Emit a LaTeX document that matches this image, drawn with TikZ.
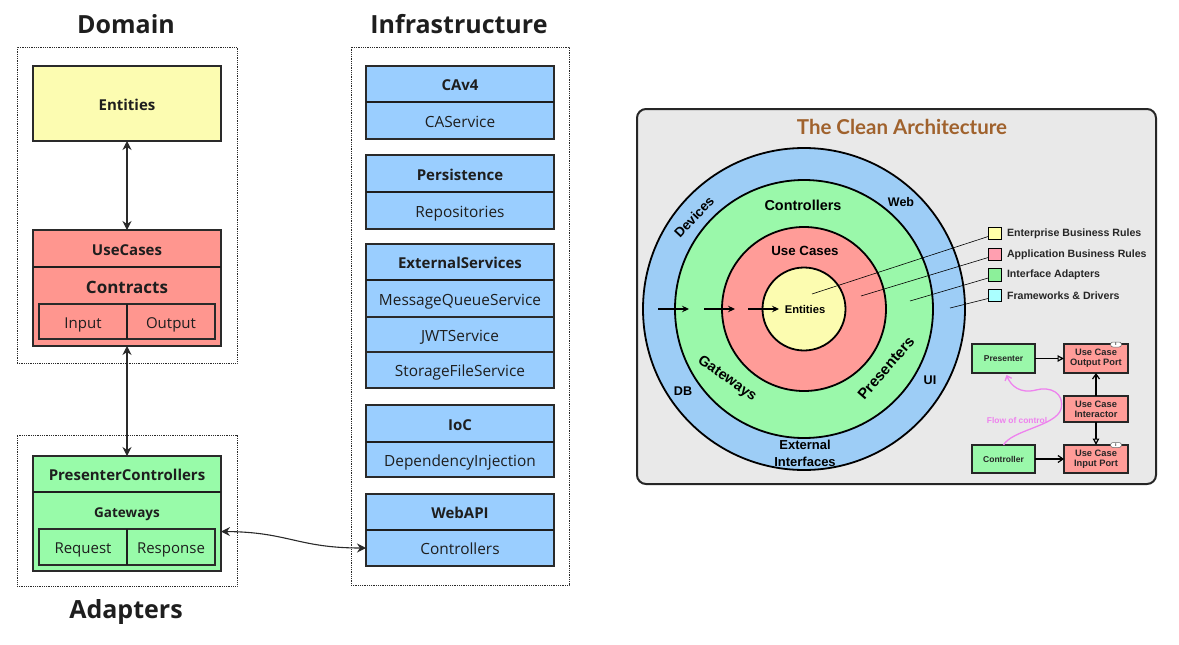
\documentclass[tikz,border=0pt]{standalone}
\usepackage{fontspec}
\setmainfont{Open Sans}
\newfontfamily\arial{Liberation Sans}
\newfontfamily\ttlfont{Lato}
\usetikzlibrary{arrows.meta,calc}
\definecolor{linec}{HTML}{2A2A2A}
\definecolor{txt}{HTML}{1E1E1E}
\definecolor{cYel}{HTML}{FCFCB1}
\definecolor{cRed}{HTML}{FF968F}
\definecolor{cGrn}{HTML}{98FBA9}
\definecolor{cBlu}{HTML}{9ACEFF}
\definecolor{rBlu}{HTML}{9DCDF6}
\definecolor{rGrn}{HTML}{9AF8AA}
\definecolor{rRed}{HTML}{FF9C98}
\definecolor{rYel}{HTML}{FCFCB0}
\definecolor{lYel}{HTML}{FFFFA8}
\definecolor{lPnk}{HTML}{FF9FB0}
\definecolor{lGrn}{HTML}{8CF09A}
\definecolor{lCyn}{HTML}{AAFFFF}
\definecolor{panel}{HTML}{E9E9E9}
\definecolor{brown}{HTML}{A0622D}
\definecolor{flow}{HTML}{EE82EE}
\newcommand\fsz[2]{\fontsize{#1}{#2}\selectfont}
\begin{document}
\begin{tikzpicture}[x=1pt,y=-1pt,
  tbox/.style={text height=16.5pt, text depth=2.7pt},
  box/.style={draw=linec, line width=1.3pt, inner sep=0pt, outer sep=0pt, minimum width=188pt, text=txt, tbox},
  bluebox/.style={box, fill=cBlu},
  hd/.style={font=\bfseries\fsz{15}{18}},
  bd/.style={font=\fsz{15.4}{18}},
  sub/.style={draw=linec, line width=1.2pt, inner sep=0pt, outer sep=0pt, minimum width=88pt, minimum height=35pt, font=\fsz{15}{18}, text=txt, tbox},
  frame/.style={draw=linec, line width=0.8pt, dash pattern=on 0.9pt off 0.9pt, inner sep=0pt, minimum width=220pt},
  divider/.style={draw=txt, line width=2.8pt},
  ttl/.style={font=\bfseries\fsz{25}{30}, text=txt},
  dbl/.style={{Stealth[length=9pt,width=9pt,inset=3pt]}-{Stealth[length=9pt,width=9pt,inset=3pt]}, line width=1.1pt, draw=linec},
  ring/.style={circle, draw=black, line width=1.8pt, inner sep=0pt, outer sep=0pt},
  rlab/.style={font=\arial\bfseries\fsz{13}{15}, text=black},
  leg/.style={draw=black, line width=0.6pt, minimum width=13pt, minimum height=12.5pt, inner sep=0pt},
  legt/.style={anchor=west, font=\arial\bfseries\fsz{10.6}{12}, text=black!85},
  sbox/.style={draw=black!85, line width=1.2pt, inner sep=0pt, outer sep=0pt, align=center, font=\arial\bfseries\fsz{8.5}{9.5}, text=black!85},
  pbox/.style={sbox, fill=rRed, minimum width=64pt, font=\arial\bfseries\fsz{9.3}{10.2}},
  ifc/.style={draw=black!60, line width=0.5pt, fill=white, rounded corners=2.5pt, minimum width=11pt, minimum height=5pt, inner sep=0pt, font=\arial\bfseries\fsz{4}{4}},
  ptr/.style={draw=black, line width=0.6pt},
  ]
\useasboundingbox (0,0) rectangle (1179,645);

% ---------- titles ----------
\node[ttl] (tDomain) at (126,24) {Domain};
\node[ttl] (tInfra) at (459,24) {Infrastructure};
\node[ttl] (tAdapt) at (126,612) {Adapters};

% ---------- frames ----------
\node[frame, minimum height=316pt] (fDomain) at (127,205) {};
\node[frame, minimum height=151pt] (fAdapt) at (127,510.5) {};
\node[frame, minimum width=218pt, minimum height=538pt] (fInfra) at (460,316) {};

% ---------- domain ----------
\node[box, fill=cYel, minimum height=75pt, hd] (ent) at (127,103.5) {Entities};
\node[box, fill=cRed, minimum height=37pt, hd] (uch) at (127,248.5) {UseCases};
\node[box, fill=cRed, minimum height=79pt] (ucb) at (127,306.5) {};
\node[font=\bfseries\fsz{17}{20}, text=txt, tbox, inner sep=0pt] (contr) at (127,286.5) {Contracts};
\node[sub, fill=cRed] (inp) at (83,321.5) {Input};
\node[sub, fill=cRed] (outp) at (171,321.5) {Output};
\draw[divider] (uch.south west) -- (uch.south east);
\draw[draw=txt, line width=2.2pt] (inp.north east) -- (inp.south east);

% ---------- adapters ----------
\node[box, fill=cGrn, minimum height=36pt, hd] (pch) at (127,474) {PresenterControllers};
\node[box, fill=cGrn, minimum height=79pt] (pcb) at (127,531.5) {};
\node[font=\bfseries\fsz{13.5}{16}, text=txt, tbox, inner sep=0pt] (gw) at (127,510.5) {Gateways};
\node[sub, fill=cGrn, minimum height=36pt] (req) at (83,547) {Request};
\node[sub, fill=cGrn, minimum height=36pt] (resp) at (171,547) {Response};
\draw[divider] (pch.south west) -- (pch.south east);
\draw[draw=txt, line width=2.2pt] (req.north east) -- (req.south east);

% ---------- infrastructure ----------
\node[bluebox, minimum height=36pt, hd] (cavh) at (460,84) {CAv4};
\node[bluebox, minimum height=37pt, bd] (cavb) at (460,120.5) {CAService};
\node[bluebox, minimum height=37pt, hd] (perh) at (460,173.5) {Persistence};
\node[bluebox, minimum height=37pt, bd] (perb) at (460,210.5) {Repositories};
\node[bluebox, minimum height=36pt, hd] (exth) at (460,262) {ExternalServices};
\node[bluebox, minimum height=37pt, bd] (mq) at (460,298.5) {MessageQueueService};
\node[bluebox, minimum height=35pt, bd] (jwt) at (460,334.5) {JWTService};
\node[bluebox, minimum height=36pt, bd] (stor) at (460,370) {StorageFileService};
\node[bluebox, minimum height=37pt, hd] (iocl) at (460,423.5) {IoC};
\node[bluebox, minimum height=35pt, bd] (iocb) at (460,459.5) {DependencyInjection};
\node[bluebox, minimum height=36pt, hd] (webh) at (460,512) {WebAPI};
\node[bluebox, minimum height=36pt, bd] (webb) at (460,548) {Controllers};
\foreach \n in {cavh,perh,exth,iocl,webh}{\draw[divider] (\n.south west) -- (\n.south east);}

% ---------- connectors ----------
\draw[dbl] (ent.south) -- (uch.north);
\draw[dbl] (ucb.south) -- (pch.north);
\draw[dbl] (pcb.east) .. controls (288,532) and (298,548) .. (webb.west);

% ---------- clean architecture panel ----------
\node[draw=black!85, line width=2pt, fill=panel, rounded corners=9pt, minimum width=519pt, minimum height=375pt, inner sep=0pt] (panel) at (896.5,296.5) {};
\node[font=\ttlfont\bfseries\fsz{20.5}{24}, text=brown] (ptitle) at (902,127) {The Clean Architecture};

\node[ring, fill=rBlu, minimum size=322pt] (cOut) at (804,309) {};
\node[ring, fill=rGrn, minimum size=258pt] (cGrn) at (804,309) {};
\node[ring, fill=rRed, minimum size=164pt] (cRed) at (804,309) {};
\node[ring, fill=rYel, minimum size=83pt] (cYel) at (804,309) {};

\node[rlab, font=\arial\bfseries\fsz{14.4}{17}] (lCtrl) at (803,205) {Controllers};
\node[rlab, font=\arial\bfseries\fsz{13.3}{16}] (lUC) at (805,251) {Use Cases};
\node[rlab, font=\arial\bfseries\fsz{11.2}{13}] (lEnt) at (805,309) {Entities};
\node[rlab, font=\arial\bfseries\fsz{12.5}{15}] (lWeb) at (901,202) {Web};
\node[rlab, font=\arial\bfseries\fsz{13.5}{16}, rotate=47] (lDev) at (694,217) {Devices};
\node[rlab, font=\arial\bfseries\fsz{12.6}{15}] (lDB) at (683,391) {DB};
\node[rlab, font=\arial\bfseries\fsz{12.6}{15}] (lUI) at (930,380) {UI};
\node[rlab, font=\arial\bfseries\fsz{14.5}{17}, rotate=-35] (lGw) at (727,379) {Gateways};
\node[rlab, font=\arial\bfseries\fsz{15}{17}, rotate=49] (lPr) at (886,368) {Presenters};
\node[rlab, font=\arial\bfseries\fsz{13}{16.5}, align=center] (lExt) at (805,453.5) {External\\Interfaces};

\coordinate (a1s) at (658,309); \coordinate (a1e) at (689,309);
\coordinate (a2s) at (704,309); \coordinate (a2e) at (735,309);
\coordinate (a3s) at (748,309); \coordinate (a3e) at (779,309);
\foreach \s/\e in {a1s/a1e,a2s/a2e,a3s/a3e}{
  \draw[line width=1.1pt, -{Stealth[length=7pt,width=6.5pt,inset=2.5pt]}] (\s) -- (\e);}

% legend
\node[leg, fill=lYel] (leg1) at (995,233.5) {};
\node[leg, fill=lPnk] (leg2) at (995,254.5) {};
\node[leg, fill=lGrn] (leg3) at (995,275) {};
\node[leg, fill=lCyn] (leg4) at (995,295.5) {};
\node[legt] (lt1) at (1003.5,233.5) {Enterprise Business Rules};
\node[legt] (lt2) at (1003.5,254.5) {Application Business Rules};
\node[legt] (lt3) at (1003.5,275) {Interface Adapters};
\node[legt] (lt4) at (1003.5,295.5) {Frameworks \& Drivers};
\coordinate (p1) at (812,294);
\coordinate (p2) at (861,296);
\coordinate (p3) at (910,301);
\coordinate (p4) at (950,308);
\draw[ptr] ([yshift=-3pt]leg1.west) -- (p1);
\draw[ptr] ([yshift=-3pt]leg2.west) -- (p2);
\draw[ptr] ([yshift=-3pt]leg3.west) -- (p3);
\draw[ptr] ([yshift=-3pt]leg4.west) -- (p4);

% small diagram
\node[sbox, fill=rGrn, minimum width=63pt, minimum height=29pt] (pres) at (1003.5,358.5) {Presenter};
\node[pbox, minimum height=29pt] (oport) at (1096,358.5) {Use Case\\Output Port};
\node[pbox, minimum height=26pt] (inter) at (1096,409) {Use Case\\Interactor};
\node[sbox, fill=rGrn, minimum width=63pt, minimum height=28pt] (ctrl) at (1003.5,459) {Controller};
\node[pbox, minimum height=28pt] (iport) at (1096,459) {Use Case\\Input Port};
\node[ifc] (oI) at (1116,344.5) {I};
\node[ifc] (iI) at (1116,445) {I};
\draw[line width=1.2pt, -{Triangle[open,length=6.5pt,width=6.5pt]}] (pres.east) -- (oport.west);
\draw[line width=1.2pt, -{Straight Barb[length=5pt,width=7pt]}] (inter.north) -- (oport.south);
\draw[line width=1.2pt, -{Triangle[open,length=6.5pt,width=6.5pt]}] (inter.south) -- (iport.north);
\draw[line width=1.2pt, -{Straight Barb[length=5pt,width=7pt]}] (ctrl.east) -- (iport.west);
\coordinate (flowEnd) at ([xshift=3pt,yshift=-2pt]pres.south);
\draw[flow, line width=1.3pt, -{Straight Barb[length=4pt,width=7pt]}] (ctrl.north) .. controls (1012,430) and (1056,426) .. (1061,409) .. controls (1065,393) and (1050,386) .. (1036,390) .. controls (1020,394) and (1011,386) .. (flowEnd);
\node[font=\arial\bfseries\fsz{8.4}{10}, text=flow] (flowT) at (1017,420) {Flow of control};
\end{tikzpicture}
\end{document}
